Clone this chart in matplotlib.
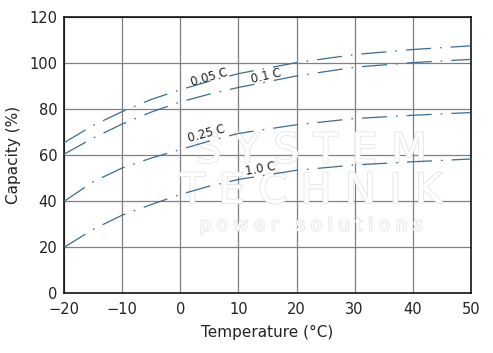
import matplotlib
matplotlib.use('Agg')
import matplotlib.pyplot as plt
import matplotlib.patheffects as pe

plt.rcParams['font.family'] = ['DejaVu Sans']
plt.rcParams['lines.scale_dashes'] = False

# capacity vs temperature
temps = [-20, -15, -10, -5, 0, 5, 10, 20, 30, 40, 50]
cap_005 = [65.5, 73.0, 79.0, 84.3, 88.5, 92.2, 95.5, 100.3, 103.8, 106.0, 107.6]
cap_01 = [60.5, 67.5, 73.6, 78.8, 83.2, 86.6, 89.5, 94.5, 98.3, 100.3, 101.7]
cap_025 = [40.0, 48.5, 54.5, 58.8, 62.5, 66.2, 69.5, 73.3, 76.0, 77.4, 78.6]
cap_10 = [20.0, 27.8, 34.0, 38.6, 43.0, 46.6, 49.5, 53.5, 55.8, 57.2, 58.4]

series = [cap_005, cap_01, cap_025, cap_10]
rate_labels = ['0.05 C', '0.1 C', '0.25 C', '1.0 C']
label_pos = [(4.9, 94.0, 16), (14.7, 94.5, 13), (4.5, 69.5, 15), (13.8, 54.0, 10)]

LINE_COLOR = '#3b6c92'

fig = plt.figure(figsize=(4.93, 3.53), dpi=100)
ax = fig.add_axes([0.130, 0.169, 0.825, 0.782])

for vals in series:
    line, = ax.plot(temps, vals, color=LINE_COLOR, linewidth=0.9, zorder=3)
    line.set_dashes((18, 6.5, 1.2, 6.5))

for text, (x, y, rot) in zip(rate_labels, label_pos):
    ax.text(x, y, text, fontsize=8.5, rotation=rot, rotation_mode='anchor',
            ha='center', va='center', color='#222222', zorder=4)

# faint watermark
wm = dict(color='white', ha='center', va='center', zorder=1,
          path_effects=[pe.withStroke(linewidth=1.2, foreground='#e4e4e4')])
ax.text(22.5, 62, 'S Y S T E M', fontsize=30, **wm)
ax.text(22.5, 44.5, 'T E C H N I K', fontsize=30, **wm)
ax.text(22.5, 29.5, 'p o w e r   s o l u t i o n s', fontsize=13, **wm)

ax.set_xlim(-20, 50)
ax.set_ylim(0, 120)
ax.set_xticks(range(-20, 51, 10))
ax.set_yticks(range(0, 121, 20))
ax.tick_params(length=0, labelsize=10.5, colors='#222222')
ax.tick_params(axis='x', pad=6)
ax.tick_params(axis='y', pad=5)
ax.grid(True, color='#808080', linewidth=0.9)
ax.set_axisbelow(True)
for s in ax.spines.values():
    s.set_linewidth(1.1)
    s.set_color('black')

ax.set_xlabel('Temperature (°C)', fontsize=11, labelpad=6, color='#222222')
ax.set_ylabel('Capacity (%)', fontsize=11, labelpad=6, color='#222222')

fig.savefig('out.png', dpi=100)
